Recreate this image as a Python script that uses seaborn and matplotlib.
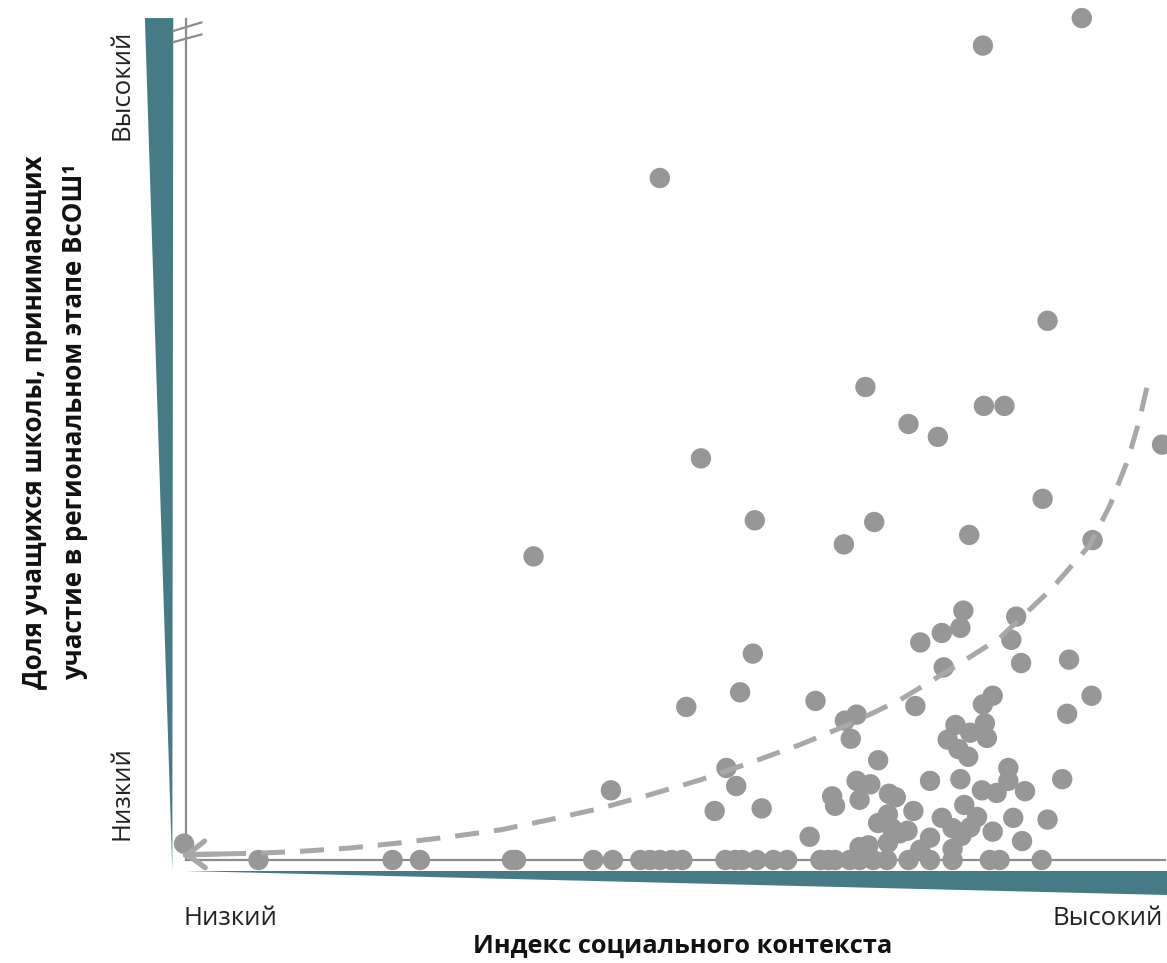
"""
Доля учащихся, участвующих в региональном этапе ВсОШ, и индекс социального контекста школы.
"""

import matplotlib
matplotlib.use("Agg")
import matplotlib.pyplot as plt
import pandas as pd
import seaborn as sns

# школы выше нуля: индекс соц. контекста (0-100) и доля участников (0-100)
school_x = [
    91.5, 81.4, 48.4, 88.0, 69.4, 81.5, 83.6, 73.8, 76.8, 99.7, 52.6, 87.5, 58.1, 70.3,
    80.0, 92.6, 67.2, 35.5,
    79.4, 84.8, 77.2, 79.1, 75.0, 84.3, 77.4, 85.3, 90.2, 57.9, 56.6, 82.4, 81.4, 64.3,
    51.1, 74.5, 92.5, 90.0, 67.3, 68.5, 78.6, 81.6, 67.9, 77.8, 80.1, 81.8, 78.9, 79.9,
    70.7, 55.2, 84.0, 79.1, 68.5, 69.9, 76.0, 89.5, 56.2, 43.4, 81.3, 82.8, 84.0, 85.7,
    66.0, 66.3, 68.8, 71.8, 72.5, 79.5, 80.8, 80.1, 54.0, 58.8, 74.3, 71.7, 70.7, 72.1,
    77.2, 84.5, 88.0, 72.9, 73.7, 76.0, 78.3, 79.2, 82.4, 63.7, 85.4, 71.7, 68.8, 69.7,
    75.0, 78.3, -0.2,
]
school_y = [
    97.9, 94.7, 79.3, 62.7, 55.0, 52.8, 52.8, 50.7, 49.2, 48.3, 46.7, 42.0, 39.5, 39.3,
    37.8, 37.2, 36.7, 35.3,
    29.0, 28.3, 26.4, 27.0, 25.3, 25.6, 22.4, 22.9, 23.3, 24.0, 19.5, 19.1, 18.1, 18.5,
    17.8, 17.9, 19.1, 17.0, 16.2, 16.9, 15.7, 15.9, 14.1, 14.0, 14.8, 14.2, 12.9, 12.0,
    11.6, 10.7, 10.7, 9.4, 9.2, 8.8, 9.2, 9.4, 8.6, 8.1, 8.1, 7.8, 9.2, 8.0,
    7.4, 6.3, 7.0, 7.7, 7.3, 6.4, 5.0, 3.8, 5.7, 6.0, 5.7, 5.3, 4.3, 3.7,
    4.9, 4.9, 4.7, 3.1, 3.4, 2.6, 3.7, 2.8, 3.3, 2.7, 2.2, 2.0, 1.5, 1.7,
    1.2, 1.3, 1.9,
]

# школы без участников (доля = 0)
zero_x = [
    7.4, 21.1, 23.9, 33.3, 33.7, 41.6, 43.6, 46.4, 47.4, 48.4, 49.6, 50.7, 55.1, 56.1,
    56.8, 58.3, 60.0, 61.4, 64.8, 65.6, 66.3, 67.8, 68.8, 70.2, 71.6, 73.8, 76.0, 78.3,
    82.1, 83.1, 87.4,
]
zero_y = [0.0] * len(zero_x)

# линия тренда (стрелка к началу координат)
trend_x = [-0.3, 3.5, 7.6, 11.6, 16.8, 21.9, 27.0, 32.1, 37.2, 42.3, 47.4, 52.5, 57.6,
           62.7, 67.8, 72.9, 78.0, 83.1, 88.3, 92.3, 94.4, 96.2, 97.4, 98.2]
trend_y = [0.6, 0.7, 0.8, 1.0, 1.4, 2.0, 2.7, 3.5, 4.7, 6.0, 7.6, 9.3, 11.3,
           13.4, 15.8, 18.6, 22.1, 25.8, 31.4, 36.6, 41.3, 46.5, 51.2, 55.2]

x_ticks = ["Низкий", "Высокий"]
y_ticks = ["Низкий", "Высокий"]
x_title = "Индекс социального контекста"
y_title = ["Доля учащихся школы, принимающих", "участие в региональном этапе ВсОШ¹"]

TEAL = "#467a87"
DOT = "#979797"
TREND = "#a8a8a8"
AXIS = "#8c8c8c"


def main():
    sns.set_theme(style="white")
    plt.rcParams["font.family"] = ["Open Sans", "DejaVu Sans"]

    df = pd.DataFrame({
        "x": school_x + zero_x,
        "y": school_y + zero_y,
    })

    fig = plt.figure(figsize=(11.67, 9.63), dpi=100)
    ax = fig.add_axes([186 / 1167, 103 / 963, 979 / 1167, 860 / 963])

    sns.scatterplot(data=df, x="x", y="y", s=215, color=DOT, edgecolor="none",
                    linewidth=0, ax=ax, zorder=3)
    ax.collections[-1].set_clip_on(False)

    ax.plot(trend_x, trend_y, color=TREND, lw=3.6, dashes=(4.8, 3.0),
            solid_capstyle="butt", dash_capstyle="butt", zorder=4, clip_on=False)
    ax.annotate("", xy=(trend_x[0], trend_y[0]), xytext=(trend_x[1], trend_y[1]),
                arrowprops=dict(arrowstyle="->,head_length=0.42,head_width=0.32",
                                lw=3.8, color=TREND, mutation_scale=30,
                                shrinkA=0, shrinkB=0),
                zorder=4, annotation_clip=False)

    ax.set_xlim(0, 100)
    ax.set_ylim(0, 100)
    ax.set_xticks([])
    ax.set_yticks([])
    ax.set_xlabel("")
    ax.set_ylabel("")
    for side in ["top", "right"]:
        ax.spines[side].set_visible(False)
    for side in ["left", "bottom"]:
        ax.spines[side].set_color(AXIS)
        ax.spines[side].set_linewidth(1.6)
        ax.spines[side].set_zorder(2)
    ax.spines["left"].set_bounds(0, 97.8)

    # разрыв оси Y
    ax.plot([-1.3, 1.6], [96.4, 97.4], color=AXIS, lw=1.6, clip_on=False)
    ax.plot([-1.3, 1.6], [95.1, 96.0], color=AXIS, lw=1.6, clip_on=False)

    # клинья-шкалы
    ax.fill([-4.2, -1.3, -1.4], [97.9, 97.9, -1.2], color=TEAL, lw=0, clip_on=False)
    ax.fill([-0.1, 100.2, 100.2], [-1.3, -1.3, -4.1], color=TEAL, lw=0, clip_on=False)

    fs = 18.5
    fig.text(230 / 1167, 1 - 918 / 963, x_ticks[0], ha="center", va="center", fontsize=fs, color="#222222")
    fig.text(1163 / 1167, 1 - 918 / 963, x_ticks[1], ha="right", va="center", fontsize=fs, color="#222222")
    fig.text(122 / 1167, 1 - 793 / 963, y_ticks[0], ha="center", va="center", rotation=90, fontsize=fs, color="#222222")
    fig.text(122 / 1167, 1 - 85 / 963, y_ticks[1], ha="center", va="center", rotation=90, fontsize=fs, color="#222222")

    fig.text(683 / 1167, 1 - 946 / 963, x_title, ha="center", va="center", fontsize=18.3,
             fontweight="bold", color="#111111")
    fig.text(35 / 1167, 1 - 422 / 963, y_title[0], ha="center", va="center", rotation=90,
             fontsize=18.6, fontweight="bold", color="#111111")
    fig.text(75 / 1167, 1 - 422 / 963, y_title[1], ha="center", va="center", rotation=90,
             fontsize=18.6, fontweight="bold", color="#111111")

    fig.savefig("out.png", dpi=100)
    plt.close(fig)


if __name__ == "__main__":
    main()
